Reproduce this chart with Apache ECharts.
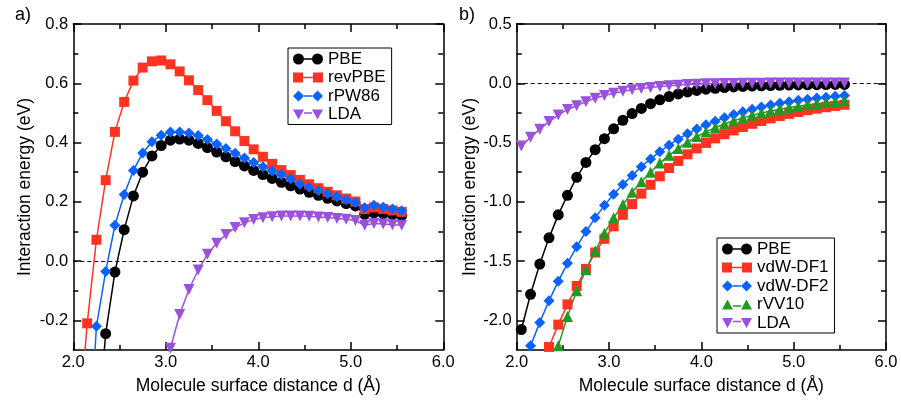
<!DOCTYPE html>
<html>
<head>
<meta charset="utf-8">
<script src="https://cdn.jsdelivr.net/npm/echarts@6/dist/echarts.min.js"></script>
<style>html,body{margin:0;padding:0;background:#fff;}#c{width:901px;height:400px;}</style>
</head>
<body>
<div id="c"></div>
<script>
// Molecule surface distance d (Å)
const DIST = [2.05,2.15,2.25,2.35,2.45,2.55,2.65,2.75,2.85,2.95,3.05,3.15,3.25,3.35,3.45,3.55,3.65,3.75,3.85,3.95,4.05,4.15,4.25,4.35,4.45,4.55,4.65,4.75,4.85,4.95,5.05,5.15,5.25,5.35,5.45,5.55];

// Panel a)
const A_PBE    = [-1.7,-1.1,-0.62,-0.245,-0.037,0.106,0.22,0.30,0.355,0.39,0.408,0.412,0.408,0.397,0.383,0.368,0.352,0.336,0.321,0.306,0.292,0.279,0.266,0.254,0.243,0.232,0.222,0.212,0.203,0.194,0.186,0.158,0.163,0.160,0.157,0.154];
const A_REVPBE = [-0.6,-0.21,0.072,0.273,0.436,0.537,0.609,0.653,0.674,0.677,0.664,0.640,0.610,0.577,0.543,0.507,0.472,0.438,0.405,0.377,0.352,0.328,0.307,0.290,0.274,0.259,0.246,0.234,0.222,0.211,0.201,0.175,0.181,0.176,0.171,0.166];
const A_RPW86  = [-1.6,-0.75,-0.22,-0.035,0.121,0.225,0.306,0.365,0.403,0.425,0.436,0.436,0.432,0.424,0.410,0.395,0.380,0.364,0.348,0.333,0.318,0.304,0.291,0.278,0.260,0.249,0.238,0.227,0.217,0.207,0.198,0.180,0.188,0.182,0.176,0.170];
const A_LDA    = [-5.4,-4.3,-3.4,-2.7,-2.1,-1.6,-1.2,-0.9,-0.65,-0.45,-0.294,-0.18,-0.096,-0.030,0.023,0.060,0.090,0.113,0.129,0.140,0.146,0.150,0.152,0.152,0.152,0.151,0.149,0.147,0.144,0.141,0.137,0.121,0.127,0.125,0.123,0.121];

// Panel b)
const B_PBE    = [-2.077,-1.78,-1.525,-1.304,-1.11,-0.945,-0.793,-0.668,-0.56,-0.467,-0.384,-0.312,-0.256,-0.212,-0.172,-0.14,-0.112,-0.09,-0.073,-0.06,-0.05,-0.042,-0.036,-0.031,-0.027,-0.024,-0.021,-0.019,-0.017,-0.015,-0.014,-0.013,-0.012,-0.011,-0.010,-0.010];
const B_DF1    = [-3.0,-2.7,-2.45,-2.224,-2.036,-1.865,-1.71,-1.566,-1.428,-1.312,-1.207,-1.11,-1.019,-0.931,-0.856,-0.785,-0.715,-0.655,-0.599,-0.55,-0.503,-0.465,-0.43,-0.398,-0.369,-0.342,-0.318,-0.296,-0.276,-0.258,-0.242,-0.227,-0.214,-0.202,-0.191,-0.181];
const B_DF2    = [-2.45,-2.215,-2.017,-1.834,-1.671,-1.519,-1.378,-1.251,-1.135,-1.03,-0.936,-0.854,-0.779,-0.704,-0.638,-0.577,-0.522,-0.472,-0.425,-0.385,-0.350,-0.320,-0.290,-0.264,-0.241,-0.220,-0.201,-0.184,-0.169,-0.156,-0.144,-0.134,-0.125,-0.117,-0.110,-0.104];
const B_RVV10  = [-3.3,-3.0,-2.75,-2.5,-2.215,-1.967,-1.751,-1.572,-1.414,-1.265,-1.135,-1.022,-0.92,-0.831,-0.75,-0.673,-0.608,-0.55,-0.497,-0.45,-0.41,-0.375,-0.344,-0.316,-0.292,-0.27,-0.251,-0.234,-0.219,-0.205,-0.193,-0.182,-0.172,-0.163,-0.155,-0.148];
const B_LDA    = [-0.53,-0.456,-0.387,-0.323,-0.268,-0.221,-0.19,-0.155,-0.126,-0.103,-0.084,-0.068,-0.055,-0.044,-0.035,-0.027,-0.021,-0.016,-0.011,-0.008,-0.005,-0.003,-0.002,-0.001,0.0,0.001,0.001,0.002,0.002,0.002,0.003,0.003,0.003,0.003,0.003,0.003];

// Axis ticks
const X_MIN = 2, X_MAX = 6;
const A_Y_MAJOR = [-0.2,0.0,0.2,0.4,0.6,0.8];
const A_Y_MINOR = [-0.1,0.1,0.3,0.5,0.7];
const B_Y_MAJOR = [-2.0,-1.5,-1.0,-0.5,0.0,0.5];
const B_Y_MINOR = [-1.75,-1.25,-0.75,-0.25,0.25];

const FONT = 'Liberation Sans, Arial, Helvetica, sans-serif';
const C_BLACK = '#000000', C_RED = '#ff3322', C_BLUE = '#0a62ff', C_GREEN = '#229922', C_PURPLE = '#9a52dc';

const ICON_CIRCLE = 'path://M0,5.5A5.5,5.5,0,1,1,11,5.5A5.5,5.5,0,1,1,0,5.5ZM11,4.75L19,4.75L19,6.25L11,6.25ZM19,5.5A5.5,5.5,0,1,1,30,5.5A5.5,5.5,0,1,1,19,5.5Z';
const ICON_SQUARE = 'path://M0,0.5L10,0.5L10,10.5L0,10.5ZM10,4.75L20,4.75L20,6.25L10,6.25ZM20,0.5L30,0.5L30,10.5L20,10.5Z';
const ICON_DIAMOND = 'path://M0,5.5L5.5,0L11,5.5L5.5,11ZM11,4.75L19,4.75L19,6.25L11,6.25ZM19,5.5L24.5,0L30,5.5L24.5,11Z';
const ICON_TRIUP = 'path://M0,10L5.5,0L11,10ZM11,5.75L19,5.75L19,7.25L11,7.25ZM19,10L24.5,0L30,10Z';
const ICON_TRIDOWN = 'path://M0,0L11,0L5.5,10ZM11,2.75L19,2.75L19,4.25L11,4.25ZM19,0L30,0L24.5,10Z';

const lineBlack = {color: '#000', width: 1.5};
const TICK_FS = 16.5, NAME_FS = 17.5;
const MAJOR_LEN = 8, MINOR_LEN = 5;

function xAxes(g) {
  const base = {
    type: 'value', gridIndex: g, min: X_MIN, max: X_MAX, interval: 1,
    axisLine: {show: true, onZero: false, lineStyle: lineBlack},
    axisTick: {show: true, inside: true, length: MAJOR_LEN, lineStyle: lineBlack},
    minorTick: {show: true, splitNumber: 2, length: MINOR_LEN, lineStyle: lineBlack},
    splitLine: {show: false}, minorSplitLine: {show: false}
  };
  const bottom = Object.assign({}, base, {
    position: 'bottom',
    axisLabel: {show: true, formatter: v => v.toFixed(1), fontSize: TICK_FS, color: '#000', margin: 4, fontFamily: FONT},
    name: 'Molecule surface distance d (Å)', nameLocation: 'middle', nameGap: 27,
    nameTextStyle: {fontSize: NAME_FS, color: '#000', fontFamily: FONT}
  });
  const top = Object.assign({}, base, {position: 'top', axisLabel: {show: false}});
  return [bottom, top];
}

function yAxes(g, min, max, step, major, minor, nameGap) {
  const common = {type: 'value', gridIndex: g, min: min, max: max, interval: step, splitLine: {show: false}};
  return [
    Object.assign({}, common, {
      position: 'left',
      axisLine: {show: true, onZero: false, lineStyle: lineBlack},
      axisTick: {show: true, inside: true, length: MAJOR_LEN, lineStyle: lineBlack, customValues: major},
      axisLabel: {show: true, customValues: major, formatter: v => v.toFixed(1), fontSize: TICK_FS, color: '#000', margin: 5, fontFamily: FONT},
      name: 'Interaction energy (eV)', nameLocation: 'middle', nameGap: nameGap,
      nameTextStyle: {fontSize: NAME_FS, color: '#000', fontFamily: FONT}
    }),
    Object.assign({}, common, {
      position: 'left',
      axisLine: {show: false, onZero: false},
      axisTick: {show: true, inside: true, length: MINOR_LEN, lineStyle: lineBlack, customValues: minor},
      axisLabel: {show: false}
    }),
    Object.assign({}, common, {
      position: 'right',
      axisLine: {show: true, onZero: false, lineStyle: lineBlack},
      axisTick: {show: true, inside: true, length: MAJOR_LEN, lineStyle: lineBlack, customValues: major},
      axisLabel: {show: false}
    }),
    Object.assign({}, common, {
      position: 'right',
      axisLine: {show: false, onZero: false},
      axisTick: {show: true, inside: true, length: MINOR_LEN, lineStyle: lineBlack, customValues: minor},
      axisLabel: {show: false}
    })
  ];
}

function pairs(ys) { return DIST.map((x, i) => [x, ys[i]]); }

const zeroLine = {
  silent: true, symbol: 'none', z: 1, animation: false,
  label: {show: false},
  lineStyle: {color: '#000', width: 1, type: [4, 3]},
  emphasis: {disabled: true},
  data: [{yAxis: 0}]
};

function mk(name, ys, color, symbol, size, xi, yi, extra) {
  return Object.assign({
    type: 'line', name: name, data: pairs(ys), xAxisIndex: xi, yAxisIndex: yi,
    symbol: symbol, symbolSize: size, showSymbol: true, clip: true,
    lineStyle: {color: color, width: 1.5}, itemStyle: {color: color, borderWidth: 0},
    emphasis: {disabled: true}, animation: false
  }, extra || {});
}

function legend(left, top, items) {
  return {
    orient: 'vertical', left: left, top: top, selectedMode: false,
    itemWidth: 30, itemHeight: 11, itemGap: 1.5,
    padding: [2.5, 6, 1.5, 5],
    borderColor: '#000', borderWidth: 1, backgroundColor: '#fff',
    itemStyle: {borderWidth: 0},
    textStyle: {fontSize: 17, color: '#000', fontFamily: FONT},
    data: items
  };
}

const chart = echarts.init(document.getElementById('c'), null, {renderer: 'canvas'});
chart.setOption({
  animation: false,
  backgroundColor: '#fff',
  title: [
    {text: 'a)', left: 15, top: 6, padding: 0, textStyle: {fontSize: 18, fontWeight: 'normal', color: '#000', fontFamily: FONT}},
    {text: 'b)', left: 459, top: 6, padding: 0, textStyle: {fontSize: 18, fontWeight: 'normal', color: '#000', fontFamily: FONT}}
  ],
  grid: [
    {left: 73.3, top: 24, width: 370, height: 333, containLabel: false},
    {left: 516.7, top: 24, width: 369.3, height: 333, containLabel: false}
  ],
  xAxis: [].concat(xAxes(0), xAxes(1)),
  yAxis: [].concat(
    yAxes(0, -0.3, 0.8, 0.1, A_Y_MAJOR, A_Y_MINOR, 39),
    yAxes(1, -2.25, 0.5, 0.25, B_Y_MAJOR, B_Y_MINOR, 37.5)
  ),
  legend: [
    legend(288, 48, [
      {name: 'PBE', icon: ICON_CIRCLE},
      {name: 'revPBE', icon: ICON_SQUARE},
      {name: 'rPW86', icon: ICON_DIAMOND},
      {name: 'LDA', icon: ICON_TRIDOWN}
    ]),
    legend(717, 238, [
      {name: 'PBE', icon: ICON_CIRCLE},
      {name: 'vdW-DF1', icon: ICON_SQUARE},
      {name: 'vdW-DF2', icon: ICON_DIAMOND},
      {name: 'rVV10', icon: ICON_TRIUP},
      {name: 'LDA', icon: ICON_TRIDOWN}
    ])
  ],
  series: [
    mk('PBE', A_PBE, C_BLACK, 'circle', 11, 0, 0, {markLine: zeroLine}),
    mk('revPBE', A_REVPBE, C_RED, 'rect', 10, 0, 0),
    mk('rPW86', A_RPW86, C_BLUE, 'diamond', 11, 0, 0),
    mk('LDA', A_LDA, C_PURPLE, 'triangle', 11, 0, 0, {symbolRotate: 180}),
    mk('PBE', B_PBE, C_BLACK, 'circle', 11, 2, 4, {markLine: zeroLine}),
    mk('vdW-DF1', B_DF1, C_RED, 'rect', 10, 2, 4),
    mk('vdW-DF2', B_DF2, C_BLUE, 'diamond', 11, 2, 4),
    mk('rVV10', B_RVV10, C_GREEN, 'triangle', 11, 2, 4),
    mk('LDA', B_LDA, C_PURPLE, 'triangle', 11, 2, 4, {symbolRotate: 180})
  ]
});
</script>
</body>
</html>
